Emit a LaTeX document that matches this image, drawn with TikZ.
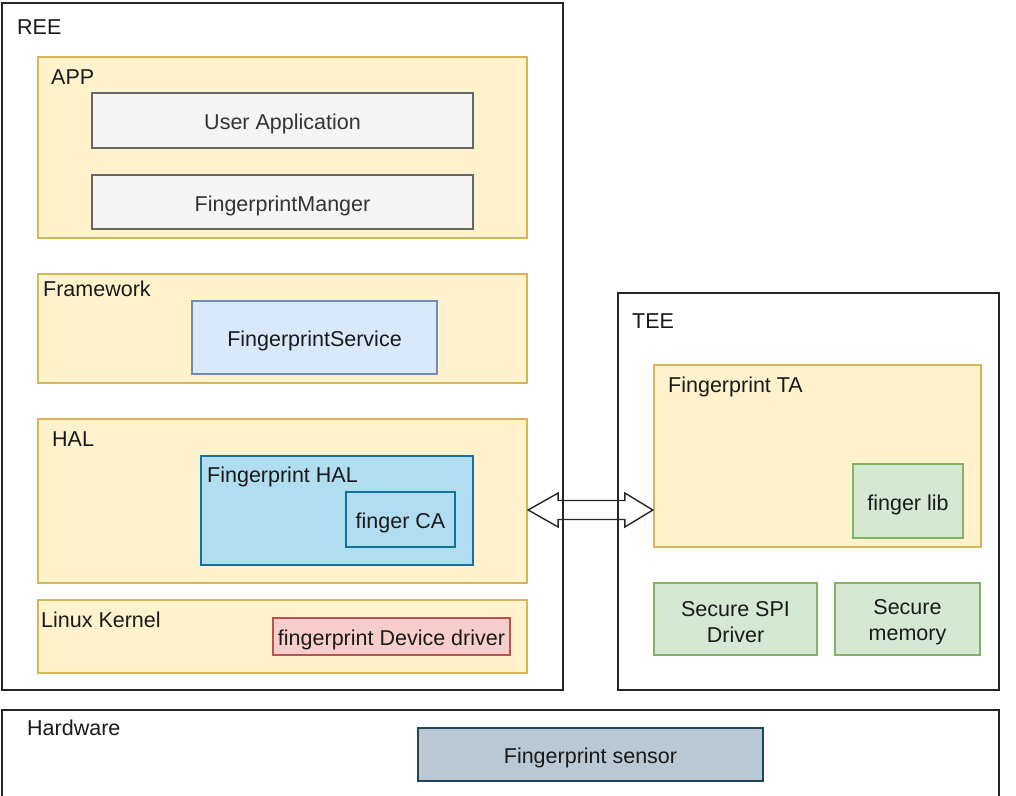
\documentclass[tikz,border=0pt]{standalone}
\usepackage{fontspec}
\setmainfont{Liberation Sans}
\usetikzlibrary{calc}
\definecolor{ylwF}{HTML}{FFF2CC}\definecolor{ylwD}{HTML}{D6B656}
\definecolor{gryF}{HTML}{F5F5F5}\definecolor{gryD}{HTML}{666666}\definecolor{gryT}{HTML}{333333}
\definecolor{bluF}{HTML}{DAE8FC}\definecolor{bluD}{HTML}{6C8EBF}
\definecolor{lbF}{HTML}{B1DDF0}\definecolor{lbD}{HTML}{10739E}
\definecolor{redF}{HTML}{F8CECC}\definecolor{redD}{HTML}{B85450}
\definecolor{grnF}{HTML}{D5E8D4}\definecolor{grnD}{HTML}{82B366}
\definecolor{slF}{HTML}{BAC8D3}\definecolor{slD}{HTML}{23445D}
\definecolor{txt}{HTML}{1A1A1A}
\begin{document}
\begin{tikzpicture}[x=1pt,y=-1pt,
  font=\fontsize{21.5}{26}\selectfont, text=txt,
  frame/.style={draw=black!85, line width=1.4pt, fill=white},
  ylw/.style={draw=ylwD, fill=ylwF, line width=1.3pt},
  gry/.style={draw=gryD, fill=gryF, line width=1.3pt},
  blu/.style={draw=bluD, fill=bluF, line width=1.3pt},
  lb/.style={draw=lbD, fill=lbF, line width=1.3pt},
  red/.style={draw=redD, fill=redF, line width=1.3pt},
  grn/.style={draw=grnD, fill=grnF, line width=1.3pt},
  sl/.style={draw=slD, fill=slF, line width=1.3pt},
  ctr/.style={yshift=-3.5pt, align=center},
  lbl/.style={anchor=base west, inner sep=0pt},
  arrowline/.style={draw=black!85, line width=1.4pt, line join=miter}
]
\useasboundingbox (0,0) rectangle (1016,795);
\clip (0,0) rectangle (1016,795);
% outer frames
\path[frame] (2,3) rectangle (563,690);
\node[lbl] (reeL) at (17,34) {REE};
\path[frame] (618,293) rectangle (999,690);
\node[lbl] (teeL) at (632,328) {TEE};
\path[frame] (2,710) rectangle (999,810);
\node[lbl] (hwL) at (27,735) {Hardware};
% APP
\path[ylw] (38,57) rectangle (527,238);
\node[lbl] (appL) at (51,84) {APP};
\path[gry] (92,93) rectangle node[ctr, text=gryT] (ua) {User Application} (473,148);
\path[gry] (92,175) rectangle node[ctr, text=gryT] (fm) {FingerprintManger} (473,229);
% Framework
\path[ylw] (38,274) rectangle (527,383);
\node[lbl] (fwL) at (43,296) {Framework};
\path[blu] (192,301) rectangle node[ctr] (fs) {FingerprintService} (437,374);
% HAL
\path[ylw] (38,419) rectangle node[minimum width=489pt,minimum height=164pt,inner sep=0pt] (HAL) {} (527,583);
\node[lbl] (halL) at (52,446) {HAL};
\path[lb] (201,456) rectangle (473,565);
\node[lbl] (fhL) at (207,482) {Fingerprint HAL};
\path[lb] (346,492) rectangle node[ctr] (ca) {finger CA} (455,547);
% Linux kernel
\path[ylw] (38,600) rectangle (527,673);
\node[lbl] (lkL) at (41,627) {Linux Kernel};
\path[red] (273,618) rectangle node[ctr] (dd) {fingerprint Device driver} (510,655);
% TEE contents
\path[ylw] (654,365) rectangle node[minimum width=327pt,minimum height=182pt,inner sep=0pt] (TA) {} (981,547);
\node[lbl] (taL) at (668,392) {Fingerprint TA};
\path[grn] (853,464) rectangle node[ctr] (lib) {finger lib} (963,538);
\path[grn] (654,583) rectangle node[ctr] (spi) {Secure SPI\\Driver} (817,655);
\path[grn] (835,583) rectangle node[ctr] (mem) {Secure\\memory} (980,655);
% Hardware
\path[sl] (418,728) rectangle node[ctr] (sensor) {Fingerprint sensor} (763,781);
% double block arrow between HAL and Fingerprint TA
\coordinate (aL) at ($(HAL.east)+(0.5,9)$);
\coordinate (aR) at ($(TA.west)+(-0.5,54)$);
\draw[arrowline] (aL) -- ++(30,-17) -- ++(0,7.5) -- ($(aR)+(-28,-9.5)$) -- ++(0,-7.5) -- (aR)
  -- ++(-28,17) -- ++(0,-7.5) -- ($(aL)+(30,9.5)$) -- ++(0,7.5) -- cycle;
\end{tikzpicture}
\end{document}
